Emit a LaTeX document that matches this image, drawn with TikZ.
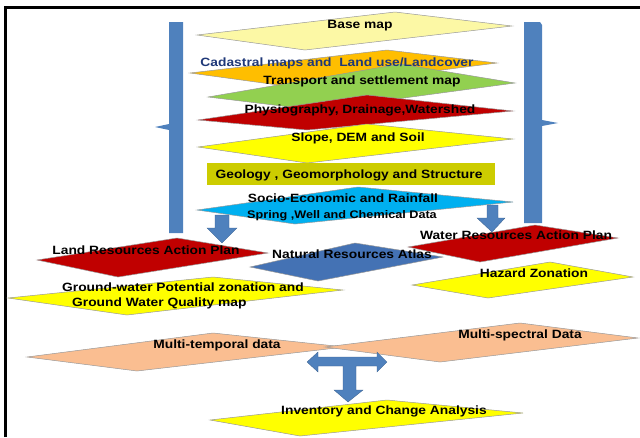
\documentclass[tikz,border=0pt]{standalone}
\usepackage{fontspec}
\setmainfont{Liberation Sans}[FakeStretch=1.15]

\definecolor{paleYellow}{RGB}{252,248,165}
\definecolor{cadOrange}{RGB}{255,190,0}
\definecolor{transGreen}{RGB}{146,208,80}
\definecolor{darkRed}{RGB}{192,0,0}
\definecolor{brightYellow}{RGB}{255,255,0}
\definecolor{geoOlive}{RGB}{204,204,0}
\definecolor{socioCyan}{RGB}{0,176,240}
\definecolor{barBlue}{RGB}{79,129,189}
\definecolor{atlasBlue}{RGB}{68,114,180}
\definecolor{peach}{RGB}{250,190,145}
\definecolor{navyText}{RGB}{31,56,120}

\begin{document}
\begin{tikzpicture}[x=1pt, y=-1pt,
    layer/.style={draw=black!40, line width=0.5pt},
    blockarrow/.style={fill=barBlue, draw=barBlue!75!black, line width=0.3pt},
    lbl/.style={font=\bfseries\fontsize{12}{14}\selectfont, anchor=base, inner sep=0pt}
  ]
      \useasboundingbox (0,0) rectangle (640,437);

      % frame
      \draw[line width=2.5pt] (5.5,437) -- (5.5,7.5) -- (640,7.5);

      % side braces
      \fill[barBlue]
        (169,22) -- (183,22) -- (183,233) -- (169,233) --
        (169,130) -- (155,127) -- (169,124) -- cycle
      ;
      \fill[barBlue]
        (524,22) -- (540,22) -- (542,25) -- (542,120) -- (558,123) --
        (542,126) -- (542,223) -- (524,223) -- cycle
      ;

      % stacked map layers
      \draw[layer, fill=paleYellow]
        (197,35) -- (395,12) -- (512,26) -- (305,50) -- cycle;
      \draw[layer, fill=cadOrange]
        (190,73) -- (387,50) -- (497,63) -- (300,88) -- cycle;
      \draw[layer, fill=transGreen]
        (208,97) -- (400,64) -- (515,83) -- (315,110) -- cycle;
      \draw[layer, fill=darkRed]
        (198,120) -- (367,95) -- (513,111) -- (307,130) -- cycle;
      \draw[layer, fill=brightYellow]
        (198,147) -- (367,124) -- (513,139) -- (307,163) -- cycle;
      \fill[geoOlive] (207,163) rectangle (495,185);
      \draw[layer, fill=socioCyan]
        (197,210) -- (358,187) -- (513,202) -- (295,224) -- cycle;

      % arrows down to the action plans
      \draw[blockarrow]
        (215,215) -- (229,215) -- (229,228) -- (237,228) --
        (222,243) -- (207,228) -- (215,228) -- cycle;
      \draw[blockarrow]
        (487,205) -- (498,205) -- (498,218) -- (505,218) --
        (492,232) -- (477,218) -- (487,218) -- cycle;

      % outputs
      \draw[layer, fill=darkRed]
        (37,260) -- (177,238) -- (268,253) -- (118,277) -- cycle;
      \draw[layer, fill=atlasBlue]
        (250,267) -- (355,243) -- (443,257) -- (318,281) -- cycle;
      \draw[layer, fill=darkRed]
        (408,247) -- (535,225) -- (618,238) -- (480,262) -- cycle;
      \draw[layer, fill=brightYellow]
        (8,298) -- (213,277) -- (343,290) -- (127,315) -- cycle;
      \draw[layer, fill=brightYellow]
        (412,285) -- (550,262) -- (633,277) -- (488,298) -- cycle;

      % remote sensing inputs
      \draw[layer, fill=peach]
        (27,357) -- (213,333) -- (345,347) -- (137,371) -- cycle;
      \draw[layer, fill=peach]
        (325,347) -- (520,323) -- (638,338) -- (440,362) -- cycle;

      % T-shaped arrow
      \draw[blockarrow]
        (307,362) -- (318,352) -- (318,357) -- (377,357) -- (377,352) --
        (387,362) -- (377,372) -- (377,366) -- (356,366) -- (356,390) --
        (363,390) -- (348,402) -- (334,390) -- (343,390) -- (343,366) --
        (318,366) -- (318,372) -- cycle;

      \draw[layer, fill=brightYellow]
        (210,420) -- (387,400) -- (523,413) -- (300,436) -- cycle;

      % Labels
      \node[lbl] (baseMap) at (360,28.5) {Base map};
      \node[lbl, text=navyText] (cadastral) at (337,66) {Cadastral maps and\ \ Land use/Landcover};
      \node[lbl] (transport) at (362,84.5) {Transport and settlement map};
      \node[lbl] (physio) at (360,113) {Physiography, Drainage,Watershed};
      \node[lbl] (slope) at (358,141.7) {Slope, DEM and Soil};
      \node[lbl] (geology) at (349,178.5) {Geology , Geomorphology and Structure};
      \node[lbl] (socio) at (343,202.5) {Socio-Economic and Rainfall};
      \node[lbl, font=\bfseries\fontsize{11}{13}\selectfont] (spring) at (342,218.3) {Spring ,Well and Chemical Data};
      \node[lbl] (landPlan) at (146,254.3) {Land Resources Action Plan};
      \node[lbl] (atlas) at (352,258.3) {Natural Resources Atlas};
      \node[lbl] (waterPlan) at (516,239.3) {Water Resources Action Plan};
      \node[lbl] (hazard) at (534,277.5) {Hazard Zonation};
      \node[lbl, anchor=base west] (gwLineA) at (62,291.7) {Ground-water Potential zonation and};
      \node[lbl, anchor=base west] (gwLineB) at (72,306.7) {Ground Water Quality map};
      \node[lbl] (multiTemporal) at (217,348.3) {Multi-temporal data};
      \node[lbl] (multiSpectral) at (520,338.3) {Multi-spectral Data};
      \node[lbl] (inventory) at (384,414) {Inventory and Change Analysis};
\end{tikzpicture}
\end{document}
